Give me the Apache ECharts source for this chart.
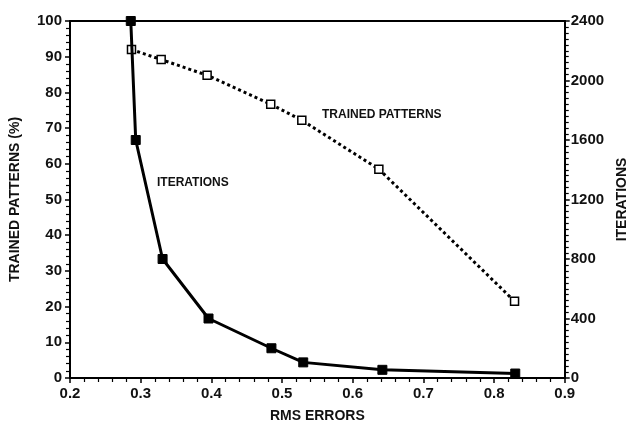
<!DOCTYPE html>
<html><head><meta charset="utf-8">
<script src="https://cdn.jsdelivr.net/npm/echarts@6/dist/echarts.min.js"></script>
<style>html,body{margin:0;padding:0;background:#fff;overflow:hidden}#c{width:637px;height:428px}</style>
</head><body><div id="c"></div>
<script>
const rmsTrained = [0.287, 0.329, 0.394, 0.484, 0.528, 0.637, 0.829];
const trainedPct = [92, 89.2, 84.8, 76.7, 72.2, 58.5, 21.5];
const rmsIter = [0.286, 0.293, 0.331, 0.396, 0.485, 0.530, 0.642, 0.830];
const iterations = [2400, 1600, 800, 400, 200, 105, 55, 30];
const xTitle = 'RMS ERRORS';
const yLeftTitle = 'TRAINED PATTERNS (%)';
const yRightTitle = 'ITERATIONS';
const labelIter = 'ITERATIONS';
const labelTrained = 'TRAINED PATTERNS';

const font = 'Liberation Sans, Arial, sans-serif';
const lbl = {color:'#111', fontFamily:font, fontSize:15, fontWeight:'bold'};
const ttl = {color:'#111', fontFamily:font, fontSize:14, fontWeight:'bold'};
const chart = echarts.init(document.getElementById('c'));
chart.setOption({
  animation:false,
  backgroundColor:'#fff',
  grid:{left:67,right:66,top:21,bottom:46},
  xAxis:[{
    type:'value', min:0.2, max:0.9, interval:0.1,
    name:xTitle, nameLocation:'middle', nameGap:31, nameTextStyle:ttl,
    axisLine:{lineStyle:{color:'#000', width:2}},
    axisTick:{show:true, inside:false, length:5, lineStyle:{color:'#000', width:1.5}},
    minorTick:{show:true, splitNumber:5, length:4, lineStyle:{color:'#000', width:1.2}},
    splitLine:{show:false},
    axisLabel:Object.assign({margin:8, formatter:v=>v.toFixed(1)}, lbl)
  },{
    type:'value', position:'top', min:0.2, max:0.9,
    axisLine:{show:true, onZero:false, lineStyle:{color:'#000', width:2}},
    axisTick:{show:false}, axisLabel:{show:false}, splitLine:{show:false}
  }],
  yAxis:[{
    type:'value', min:0, max:100, interval:10,
    name:yLeftTitle, nameLocation:'middle', nameGap:48, nameRotate:90, nameTextStyle:ttl,
    axisLine:{show:true, lineStyle:{color:'#000', width:2}},
    axisTick:{show:true, length:5, lineStyle:{color:'#000', width:1.5}},
    minorTick:{show:true, splitNumber:5, length:4, lineStyle:{color:'#000', width:1.2}},
    splitLine:{show:false},
    axisLabel:Object.assign({margin:8}, lbl)
  },{
    type:'value', min:0, max:2400, interval:400, position:'right',
    name:yRightTitle, nameLocation:'middle', nameGap:50, nameRotate:90, nameTextStyle:ttl,
    axisLine:{show:true, lineStyle:{color:'#000', width:2}},
    axisTick:{show:true, length:5, lineStyle:{color:'#000', width:1.5}},
    minorTick:{show:true, splitNumber:10, length:4, lineStyle:{color:'#000', width:1.2}},
    splitLine:{show:false},
    axisLabel:Object.assign({margin:6, formatter:v=>String(v)}, lbl)
  }],
  series:[{
    type:'line', xAxisIndex:0, yAxisIndex:0,
    data:rmsTrained.map((x,i)=>[x,trainedPct[i]]),
    symbol:'rect', symbolSize:8,
    itemStyle:{color:'#fff', borderColor:'#000', borderWidth:1.5},
    lineStyle:{color:'#000', width:3, type:[3,3]},
    z:3
  },{
    type:'line', xAxisIndex:0, yAxisIndex:1,
    data:rmsIter.map((x,i)=>[x,iterations[i]]),
    symbol:'rect', symbolSize:9,
    itemStyle:{color:'#000', borderColor:'#000'},
    lineStyle:{color:'#000', width:3},
    z:4
  }],
  graphic:[
    {type:'text', left:157, top:177, style:{text:labelIter, fill:'#111', font:'bold 12px '+font}},
    {type:'text', left:322, top:109, style:{text:labelTrained, fill:'#111', font:'bold 12px '+font}}
  ]
});
</script></body></html>
